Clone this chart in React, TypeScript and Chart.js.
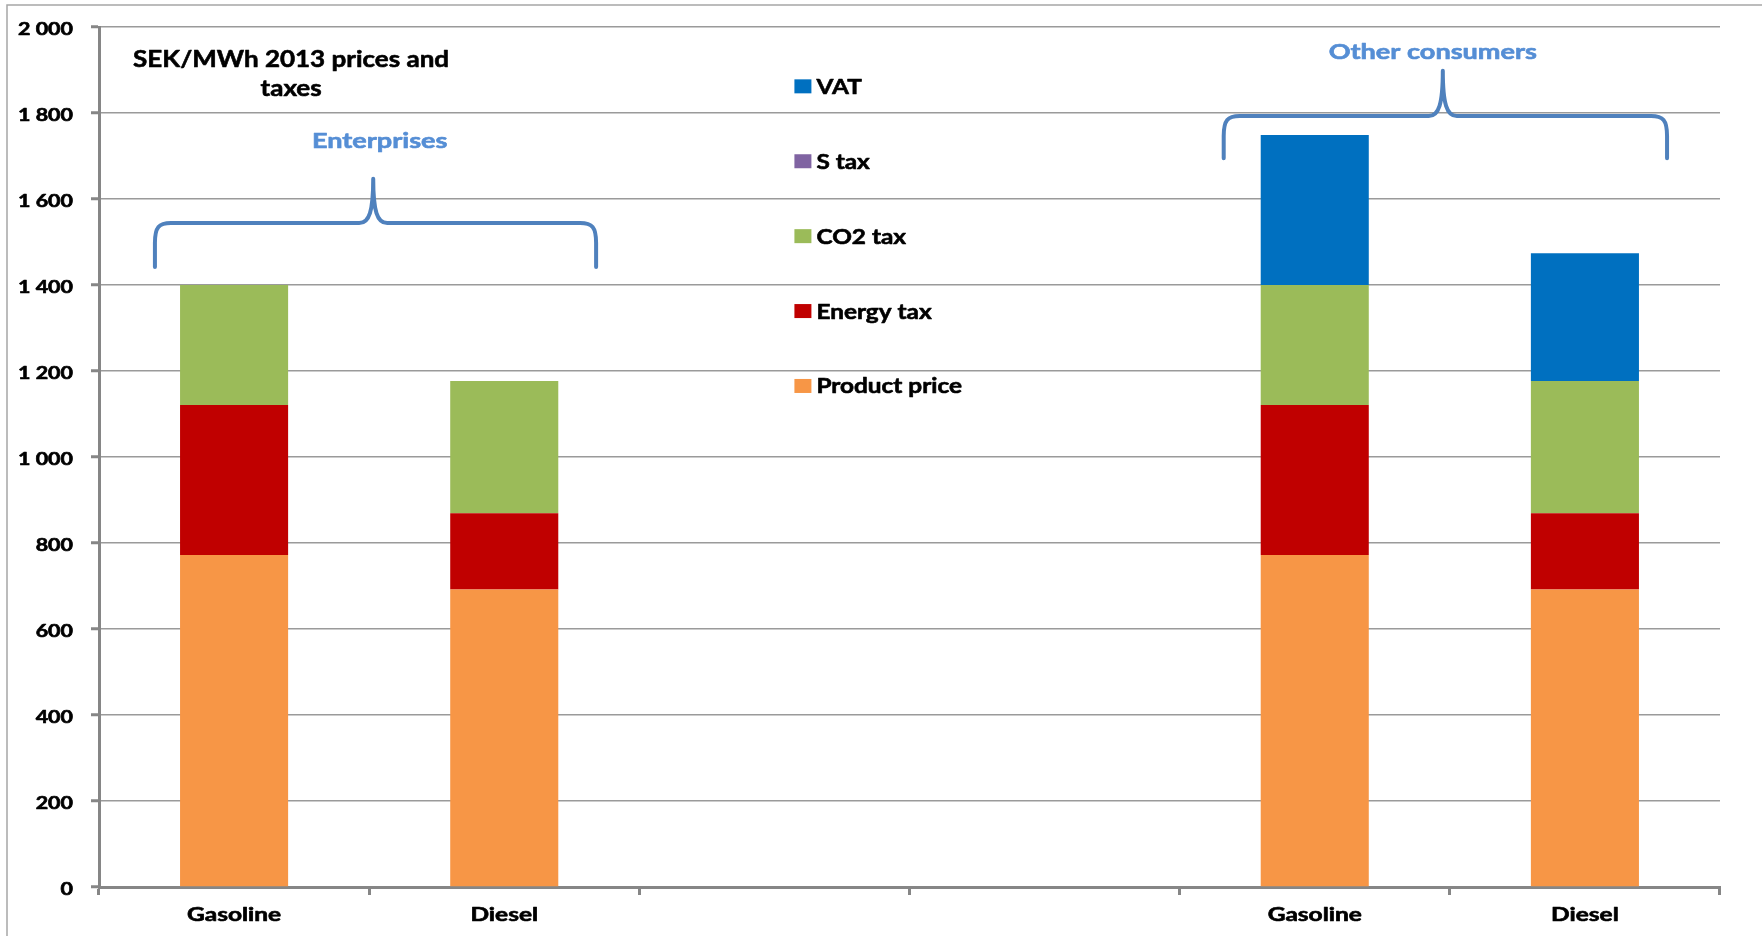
import React, { useEffect, useRef } from "react";
import { Chart, registerables } from "chart.js";

Chart.register(...registerables);

// ---------- data ----------
const categories = ["Gasoline", "Diesel", "", "", "Gasoline", "Diesel"];
const productPrice = [772, 692, null, null, 772, 692];
const energyTax = [349, 177, null, null, 349, 177];
const co2Tax = [279, 308, null, null, 279, 308];
const sTax = [0, 0, null, null, 0, 0];
const vat = [0, 0, null, null, 349, 297];
const seriesNames = ["Product price", "Energy tax", "CO2 tax", "S tax", "VAT"];
const seriesColors = ["#F79646", "#C00000", "#9BBB59", "#8064A2", "#0070C0"];
const yMin = 0;
const yMax = 2000;
const yStep = 200;
const titleLines = ["SEK/MWh 2013 prices and", "taxes"];
const groupNames = ["Enterprises", "Other consumers"];

// annotations, in axis units (x: category index, y: value)
const titlePos = { x: 0.211, y1: 1927, y2: 1858 };
const braces = [
  { left: -0.293, right: 1.34, center: 0.515, tipY: 1647, barY: 1544, endY: 1442, labelX: 0.539, labelY: 1735 },
  { left: 3.663, right: 5.304, center: 4.474, tipY: 1898, barY: 1793, endY: 1695, labelX: 4.437, labelY: 1942 },
];

const FONT = "Lato";
const CAP = 0.358; // half cap-height ratio of Lato
const AXIS_GREY = "#868686";
const GRID_GREY = "#9a9a9a";
const BRACE_BLUE = "#4F81BD";
const LABEL_BLUE = "#558ED5";

const fmt = (v: number) => String(v).replace(/\B(?=(\d{3})+(?!\d))/g, " ");

// draws text widened horizontally by sx, vertically centred on the cap height at capY
function wideText(
  ctx: CanvasRenderingContext2D,
  text: string,
  x: number,
  capY: number,
  size: number,
  sx: number,
  align: CanvasTextAlign,
  color: string
) {
  ctx.save();
  ctx.font = `bold ${size}px ${FONT}`;
  ctx.fillStyle = color;
  ctx.strokeStyle = color;
  ctx.lineWidth = 0.6;
  ctx.lineJoin = "round";
  ctx.textAlign = align;
  ctx.textBaseline = "alphabetic";
  ctx.translate(x, capY + CAP * size);
  ctx.scale(sx, 1);
  ctx.fillText(text, 0, 0);
  ctx.strokeText(text, 0, 0);
  ctx.restore();
}

const annotationPlugin = {
  id: "annotations",
  afterDraw(chart: any) {
    const ctx = chart.ctx as CanvasRenderingContext2D;
    const xs = chart.scales.x;
    const ys = chart.scales.y;
    const area = chart.chartArea;
    ctx.save();

    // outer frame
    ctx.strokeStyle = "#a6a6a6";
    ctx.lineWidth = 1.5;
    ctx.beginPath();
    ctx.moveTo(7, chart.height + 5);
    ctx.lineTo(7, 5);
    ctx.lineTo(chart.width + 5, 5);
    ctx.stroke();

    // axis tick labels
    ys.ticks.forEach((t: any) => {
      wideText(ctx, fmt(t.value), area.left - 26, ys.getPixelForValue(t.value) + 2, 16.5, 1.3, "right", "#000");
    });
    xs.ticks.forEach((t: any, i: number) => {
      const lab = categories[t.value ?? i];
      if (lab) wideText(ctx, lab, xs.getPixelForValue(t.value ?? i), area.bottom + 28, 18, 1.36, "center", "#000");
    });

    // title
    const tx = xs.getPixelForValue(titlePos.x);
    wideText(ctx, titleLines[0], tx, ys.getPixelForValue(titlePos.y1), 23, 1.13, "center", "#000");
    wideText(ctx, titleLines[1], tx, ys.getPixelForValue(titlePos.y2), 23, 1.13, "center", "#000");

    // braces + group labels
    braces.forEach((b, i) => {
      const L = xs.getPixelForValue(b.left);
      const R = xs.getPixelForValue(b.right);
      const C = xs.getPixelForValue(b.center);
      const tip = ys.getPixelForValue(b.tipY);
      const H = ys.getPixelForValue(b.barY);
      const E = ys.getPixelForValue(b.endY);
      const r = 16;
      ctx.strokeStyle = BRACE_BLUE;
      ctx.lineWidth = 4;
      ctx.lineCap = "round";
      ctx.lineJoin = "round";
      ctx.beginPath();
      ctx.moveTo(L, E);
      ctx.lineTo(L, H + r + 4);
      ctx.bezierCurveTo(L, H + 4, L + 4, H, L + r, H);
      ctx.lineTo(C - 14, H);
      ctx.bezierCurveTo(C - 4, H, C, H - 12, C, tip);
      ctx.bezierCurveTo(C, H - 12, C + 4, H, C + 14, H);
      ctx.lineTo(R - r, H);
      ctx.bezierCurveTo(R - 4, H, R, H + 4, R, H + r + 4);
      ctx.lineTo(R, E);
      ctx.stroke();

      wideText(ctx, groupNames[i], xs.getPixelForValue(b.labelX), ys.getPixelForValue(b.labelY), 21, 1.29, "center", LABEL_BLUE);
    });

    // legend (reversed order, top = last series)
    const lx = area.left + (area.right - area.left) * 0.429;
    const h = area.bottom - area.top;
    const order = chart.data.datasets.map((_: any, k: number) => k).reverse();
    order.forEach((k: number, j: number) => {
      const ds = chart.data.datasets[k];
      const cy = area.top + h * (0.069 + 0.0871 * j);
      ctx.fillStyle = ds.backgroundColor;
      ctx.fillRect(lx, cy - 7, 17, 14);
      wideText(ctx, ds.label, lx + 22, cy, 21, 1.16, "left", "#000");
    });

    ctx.restore();
  },
};

export default function App() {
  const canvasRef = useRef<HTMLCanvasElement | null>(null);

  useEffect(() => {
    document.body.style.margin = "0";
    const canvas = canvasRef.current;
    if (!canvas) return;
    const seriesData = [productPrice, energyTax, co2Tax, sTax, vat];
    const chart = new Chart(canvas, {
      type: "bar",
      data: {
        labels: categories,
        datasets: seriesData.map((d, i) => ({
          label: seriesNames[i],
          data: d,
          backgroundColor: seriesColors[i],
          borderWidth: 0,
          barPercentage: 0.4,
          categoryPercentage: 1,
        })),
      },
      options: {
        animation: false,
        responsive: false,
        maintainAspectRatio: false,
        devicePixelRatio: 1,
        layout: { padding: { left: 0, right: 42, top: 27, bottom: 0 } },
        plugins: {
          legend: { display: false },
          tooltip: { enabled: false },
          title: { display: false },
        },
        scales: {
          x: {
            stacked: true,
            offset: true,
            border: { display: true, color: AXIS_GREY, width: 3 },
            grid: {
              display: true,
              offset: true,
              drawOnChartArea: false,
              drawTicks: true,
              tickLength: 8,
              tickWidth: 3,
              tickColor: AXIS_GREY,
            },
            ticks: { display: false, autoSkip: false, maxRotation: 0 },
            afterFit: (s: any) => {
              s.height = 49;
            },
          },
          y: {
            stacked: true,
            min: yMin,
            max: yMax,
            border: { display: true, color: AXIS_GREY, width: 3 },
            grid: {
              color: GRID_GREY,
              lineWidth: 1.5,
              drawTicks: true,
              tickLength: 8,
              tickWidth: 3,
              tickColor: AXIS_GREY,
            },
            ticks: { display: false, stepSize: yStep },
            afterFit: (s: any) => {
              s.width = 99;
            },
          },
        },
      },
      plugins: [annotationPlugin],
    });
    return () => chart.destroy();
  }, []);

  return <canvas ref={canvasRef} width={1762} height={936} style={{ display: "block" }} />;
}
